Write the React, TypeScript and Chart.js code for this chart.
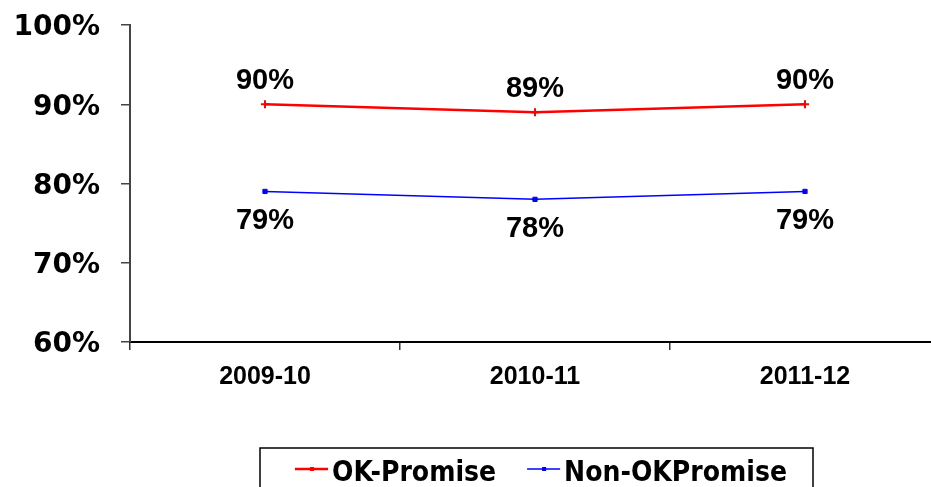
import React, { useEffect, useRef } from "react";
import { Chart, registerables } from "chart.js";

Chart.register(...registerables);

const categories = ["2009-10", "2010-11", "2011-12"];
const okPromise = [90, 89, 90];
const nonOkPromise = [79, 78, 79];
const seriesNames = ["OK-Promise", "Non-OKPromise"];
const yMin = 60;
const yMax = 100;
const yStep = 10;

const dataLabelPlugin = {
  id: "dataLabels",
  afterDatasetsDraw(chart: any) {
    const ctx = chart.ctx;
    ctx.save();
    ctx.font = "bold 29px 'Liberation Sans', Arial, sans-serif";
    ctx.fillStyle = "#000";
    ctx.textAlign = "center";
    ctx.textBaseline = "alphabetic";
    chart.data.datasets.forEach((ds: any, di: number) => {
      const meta = chart.getDatasetMeta(di);
      meta.data.forEach((pt: any, i: number) => {
        const label = ds.data[i] + "%";
        if (di === 0) {
          ctx.fillText(label, pt.x, pt.y - 15);
        } else {
          ctx.fillText(label, pt.x, pt.y + 38);
        }
      });
    });
    ctx.restore();
  },
};

const legendPlugin = {
  id: "boxLegend",
  afterDraw(chart: any) {
    const ctx = chart.ctx;
    ctx.save();
    const boxLeft = 260;
    const boxTop = 448;
    const boxRight = 813;
    const boxBottom = 500;
    ctx.strokeStyle = "#000";
    ctx.lineWidth = 1.5;
    ctx.strokeRect(boxLeft, boxTop, boxRight - boxLeft, boxBottom - boxTop);
    ctx.font = "bold 28px 'DejaVu Sans Condensed', 'DejaVu Sans', sans-serif";
    ctx.textBaseline = "alphabetic";
    ctx.textAlign = "left";
    let x = boxLeft + 35;
    const lineY = 469;
    chart.data.datasets.forEach((ds: any, di: number) => {
      ctx.strokeStyle = ds.borderColor;
      ctx.lineWidth = di === 0 ? 2.5 : 1.5;
      ctx.beginPath();
      ctx.moveTo(x, lineY);
      ctx.lineTo(x + 33, lineY);
      ctx.stroke();
      ctx.fillStyle = ds.borderColor;
      ctx.fillRect(x + 15, lineY - 2, 4, 4);
      ctx.fillStyle = "#000";
      ctx.fillText(ds.label, x + 37, 481);
      const w = ctx.measureText(ds.label).width;
      x = x + 37 + w + 31;
    });
    ctx.restore();
  },
};

export default function App() {
  const ref = useRef<HTMLCanvasElement>(null);
  useEffect(() => {
    if (!ref.current) return;
    const chart = new Chart(ref.current, {
      type: "line",
      data: {
        labels: categories,
        datasets: [
          {
            label: seriesNames[0],
            data: okPromise,
            borderColor: "#FF0000",
            backgroundColor: "#FF0000",
            borderWidth: 2.5,
            pointStyle: "cross",
            pointRadius: 4,
            pointBorderWidth: 2,
            tension: 0,
          },
          {
            label: seriesNames[1],
            data: nonOkPromise,
            borderColor: "#0000FF",
            backgroundColor: "#0000FF",
            borderWidth: 1.5,
            pointStyle: "rect",
            pointRadius: 3,
            pointBorderWidth: 1,
            tension: 0,
          },
        ],
      },
      options: {
        responsive: false,
        animation: false,
        layout: { padding: { top: 25, right: 20, left: 0, bottom: 0 } },
        plugins: {
          legend: { display: false },
          tooltip: { enabled: false },
        },
        scales: {
          x: {
            offset: true,
            afterFit: (s: any) => {
              s.height = 145;
              s.paddingLeft = 0;
              s.paddingRight = 0;
            },
            grid: {
              offset: true,
              drawOnChartArea: false,
              drawTicks: true,
              tickLength: 8,
              color: "#333",
              lineWidth: 1.5,
            },
            border: { color: "#000", width: 2 },
            ticks: {
              color: "#000",
              padding: 12,
              font: { family: "'Liberation Sans', Arial, sans-serif", size: 25, weight: "bold" },
            },
          },
          y: {
            min: yMin,
            max: yMax,
            afterFit: (s: any) => {
              s.width = 130;
              s.paddingTop = 0;
              s.paddingBottom = 0;
            },
            grid: {
              drawOnChartArea: false,
              drawTicks: true,
              tickLength: 9,
              color: "#444",
              lineWidth: 1.5,
            },
            border: { color: "#444", width: 2 },
            ticks: {
              stepSize: yStep,
              color: "#000",
              padding: 21,
              labelOffset: 3,
              callback: (v: any) => v + "%",
              font: { family: "'DejaVu Sans', sans-serif", size: 28, weight: "bold" },
            },
          },
        },
      } as any,
      plugins: [dataLabelPlugin, legendPlugin],
    });
    return () => chart.destroy();
  }, []);
  return (
    <div
      style={{
        position: "fixed",
        left: 0,
        top: 0,
        width: 931,
        height: 487,
        overflow: "hidden",
        background: "#fff",
      }}
    >
      <canvas ref={ref} width={960} height={487} style={{ display: "block", width: 960, height: 487 }} />
    </div>
  );
}
